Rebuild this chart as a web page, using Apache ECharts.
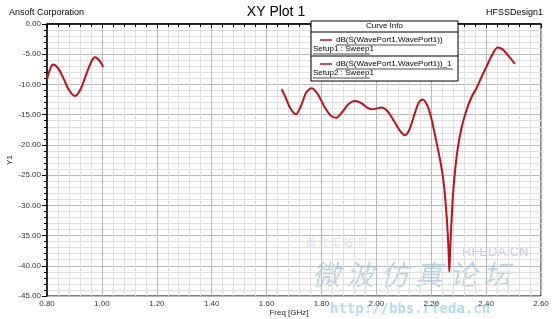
<!DOCTYPE html>
<html><head><meta charset="utf-8">
<script src="https://cdn.jsdelivr.net/npm/echarts@6/dist/echarts.min.js"></script>
<style>html,body{margin:0;padding:0;background:#fff}#c{width:552px;height:319px}</style>
</head><body><div id="c"></div>
<script>
// ---- data ----
const freq1 = [0.800,0.812,0.823,0.840,0.860,0.880,0.902,0.920,0.940,0.960,0.975,0.990,1.005];
const db1   = [-9.2,-7.4,-6.7,-7.3,-9.0,-10.9,-11.9,-11.0,-8.7,-6.4,-5.5,-6.0,-7.1];
const freq2 = [1.655,1.670,1.685,1.707,1.725,1.745,1.764,1.785,1.810,1.835,1.855,1.875,1.900,1.922,1.945,1.965,1.983,2.000,2.019,2.040,2.065,2.085,2.104,2.120,2.140,2.155,2.169,2.185,2.200,2.212,2.224,2.236,2.246,2.254,2.260,2.264,2.266,2.269,2.273,2.279,2.286,2.296,2.310,2.328,2.348,2.365,2.385,2.402,2.420,2.442,2.460,2.480,2.505];
const db2   = [-10.8,-12.2,-13.8,-14.95,-13.6,-11.3,-10.65,-11.5,-13.6,-15.2,-15.5,-14.6,-13.2,-12.75,-13.1,-13.8,-14.1,-14.0,-13.8,-14.4,-16.1,-17.6,-18.4,-17.5,-14.8,-13.0,-12.5,-13.4,-15.5,-18.0,-20.6,-23.4,-26.5,-30.5,-34.5,-38.5,-41.0,-37.5,-33.5,-28.5,-24.7,-20.8,-17.3,-14.3,-12.0,-10.6,-8.6,-7.0,-5.3,-3.9,-4.2,-5.2,-6.6];
const seriesNames = ['dB(S(WavePort1,WavePort1))','dB(S(WavePort1,WavePort1))_1'];
const setupNames = ['Setup1 : Sweep1','Setup2 : Sweep1'];
const xName = 'Freq [GHz]', yName = 'Y1';
const xRange = [0.8, 2.6], xStep = 0.2;
const yRange = [-45, 0], yStep = 5;

const pair = (xs, ys) => xs.map((x, i) => [x, ys[i]]);
const F = '"Liberation Sans", Arial, sans-serif';
const red = '#c0101c';

const chart = echarts.init(document.getElementById('c'), null, {renderer: 'canvas'});

const legendX = 311, legendY = 21, legendW = 147;
const legendItems = [];
legendItems.push({type:'rect', shape:{x:legendX, y:legendY, width:legendW, height:60}, style:{fill:'#fff', stroke:'#000', lineWidth:1}, z:100});
legendItems.push({type:'text', x:legendX + legendW/2, y:legendY + 5, style:{text:'Curve Info', font:'8px ' + F, fill:'#000', align:'center', verticalAlign:'middle'}, z:101});
legendItems.push({type:'line', shape:{x1:legendX, y1:legendY+11, x2:legendX+legendW, y2:legendY+11}, style:{stroke:'#000', lineWidth:1}, z:101});
legendItems.push({type:'line', shape:{x1:legendX, y1:legendY+35, x2:legendX+legendW, y2:legendY+35}, style:{stroke:'#000', lineWidth:1}, z:101});
for (let i = 0; i < 2; i++) {
  const y0 = legendY + 19 + i * 24;
  legendItems.push({type:'line', shape:{x1:legendX+9, y1:y0, x2:legendX+21, y2:y0}, style:{stroke:red, lineWidth:1.5}, z:101});
  legendItems.push({type:'text', x:legendX+25, y:y0, style:{text:seriesNames[i], font:'8px ' + F, fill:'#000', verticalAlign:'middle'}, z:101});
  legendItems.push({type:'line', shape:{x1:legendX+25, y1:y0+5, x2:legendX+25+(i?117:100), y2:y0+5}, style:{stroke:'#000', lineWidth:0.7}, z:101});
  legendItems.push({type:'text', x:legendX+2, y:y0+9, style:{text:setupNames[i], font:'8px ' + F, fill:'#000', verticalAlign:'middle'}, z:101});
  legendItems.push({type:'line', shape:{x1:legendX+2, y1:y0+14, x2:legendX+59, y2:y0+14}, style:{stroke:'#000', lineWidth:0.7}, z:101});
}

const option = {
  animation: false,
  backgroundColor: '#fff',
  grid: {left: 47, right: 11, top: 24, bottom: 23, outerBoundsMode: 'none', containLabel: false, show: true, borderColor: '#000', borderWidth: 1, backgroundColor: 'transparent'},
  xAxis: {
    type: 'value', min: xRange[0], max: xRange[1], interval: xStep,
    axisLine: {lineStyle: {color: '#000', width: 1.5}},
    axisTick: {show: true, length: 4, lineStyle: {color: '#000'}},
    minorTick: {show: true, splitNumber: 5, length: 3, lineStyle: {color: '#000'}},
    axisLabel: {fontFamily: F, fontSize: 8, color: '#333', margin: 4, formatter: v => v.toFixed(2)},
    splitLine: {show: true, lineStyle: {color: '#b8b8b8', width: 1}},
    minorSplitLine: {show: true, lineStyle: {color: '#dedede', width: 1}}
  },
  yAxis: {
    type: 'value', min: yRange[0], max: yRange[1], interval: yStep,
    axisLine: {show: true, lineStyle: {color: '#000', width: 1.5}},
    axisTick: {show: true, length: 5, lineStyle: {color: '#000'}},
    minorTick: {show: true, splitNumber: 5, length: 3, lineStyle: {color: '#000'}},
    axisLabel: {fontFamily: F, fontSize: 8, color: '#333', margin: 6, formatter: v => v.toFixed(2)},
    splitLine: {show: true, lineStyle: {color: '#b8b8b8', width: 1}},
    minorSplitLine: {show: true, lineStyle: {color: '#dedede', width: 1}}
  },
  title: [
    {text: 'XY Plot 1', left: 'center', top: 0, textStyle: {fontFamily: F, fontSize: 14, fontWeight: 'normal', color: '#000'}},
    {text: 'Ansoft Corporation', left: 4, top: 3, textStyle: {fontFamily: F, fontSize: 9, fontWeight: 'normal', color: '#000'}},
    {text: 'HFSSDesign1', right: 4, top: 3, textStyle: {fontFamily: F, fontSize: 9, fontWeight: 'normal', color: '#000'}}
  ],
  graphic: [
    {type:'text', left: 312, top: 260, style:{text:'微 波 仿 真 论 坛', font:'italic 28px "Noto Sans CJK SC"', fill:'rgba(120,180,215,0.55)'}, z:0},
    {type:'text', left: 462, top: 246, style:{text:'RFEDA.CN', font:'13px ' + F, fill:'rgba(190,170,225,0.7)'}, z:0},
    {type:'text', left: 330, top: 302, style:{text:'http://bbs.rfeda.cn', font:'bold 14px "DejaVu Sans Mono"', fill:'rgba(130,195,230,0.6)'}, z:0},
    {type:'text', left: 306, top: 237, style:{text:'西 北 工 站 卡', font:'10px "Noto Sans CJK SC"', fill:'rgba(170,170,200,0.4)'}, z:0},
    {type:'text', x: 289, y: 313, style:{text:xName, font:'8px ' + F, fill:'#222', align:'center', verticalAlign:'middle'}, z:50},
    {type:'text', x: 10, y: 160, rotation: Math.PI/2, style:{text:yName, font:'8px ' + F, fill:'#222', align:'center', verticalAlign:'middle'}, z:50}
  ].concat(legendItems),
  series: [
    {type: 'line', data: pair(freq1, db1), smooth: 0.4, showSymbol: false, lineStyle: {color: red, width: 2}, z: 5},
    {type: 'line', data: pair(freq2, db2), smooth: 0.3, showSymbol: false, lineStyle: {color: red, width: 2}, z: 5}
  ]
};
chart.setOption(option);
</script></body></html>
